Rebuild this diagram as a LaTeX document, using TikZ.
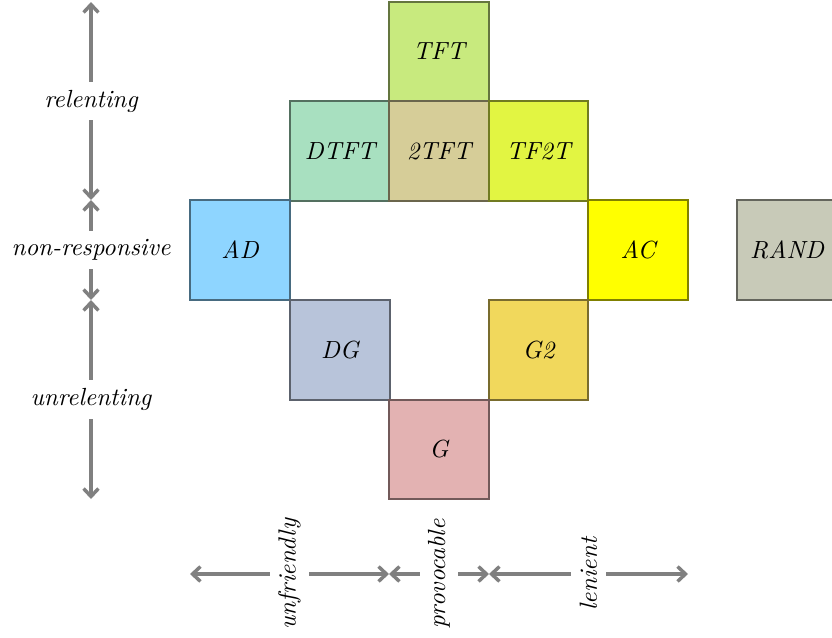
\documentclass[tikz,border=0pt]{standalone}
\usetikzlibrary{arrows.meta}
\definecolor{cTFT}{HTML}{C8EA7E}
\definecolor{cDTFT}{HTML}{A8E0C0}
\definecolor{cTTFT}{HTML}{D6CD98}
\definecolor{cTFTT}{HTML}{E2F542}
\definecolor{cAD}{HTML}{8ED5FF}
\definecolor{cAC}{HTML}{FFFF00}
\definecolor{cRAND}{HTML}{C8CAB8}
\definecolor{cDG}{HTML}{B8C4DA}
\definecolor{cGG}{HTML}{F1D85C}
\definecolor{cG}{HTML}{E3B2B2}
\begin{document}
\begin{tikzpicture}[x=0.4032pt,y=-0.4032pt,
  sq/.style={draw=#1!50!black, fill=#1, line width=0.8pt, minimum size=40.1pt, inner sep=0pt, font=\itshape},
  dim/.style={draw=gray, line width=1.4pt, {Straight Barb[length=3.2pt,width=6pt]}-{Straight Barb[length=3.2pt,width=6pt]}},
  lab/.style={fill=white, font=\itshape}]
\useasboundingbox (0,0) rectangle (832,637);
\node[sq=cTFT] (tft) at (439,51.5) {TFT};
\node[sq=cDTFT] (dtft) at (340,151) {DTFT};
\node[sq=cTTFT] (ttft) at (439,151) {2TFT};
\node[sq=cTFTT] (tftt) at (538.5,151) {TF2T};
\node[sq=cAD] (ad) at (240,250) {AD};
\node[sq=cAC] (ac) at (638,250) {AC};
\node[sq=cRAND] (rand) at (787,250) {RAND};
\node[sq=cDG] (dg) at (340,350) {DG};
\node[sq=cGG] (gg) at (538.5,350) {G2};
\node[sq=cG] (g) at (439,449.5) {G};
\coordinate (v0) at (91,2);
\coordinate (v1) at (91,200);
\coordinate (v2) at (91,300);
\coordinate (v3) at (91,499);
\draw[dim] (v0) -- node[lab] (lrel) {relenting} (v1);
\draw[dim] (v1) -- node[lab] (lnon) {non-responsive} (v2);
\draw[dim] (v2) -- node[lab] (lunr) {unrelenting} (v3);
\coordinate (h0) at (190,574);
\coordinate (h1) at (389,574);
\coordinate (h2) at (489,574);
\coordinate (h3) at (688,574);
\draw[dim] (h0) -- node[lab,rotate=90] (lunf) {unfriendly} (h1);
\draw[dim] (h1) -- node[lab,rotate=90] (lpro) {provocable} (h2);
\draw[dim] (h2) -- node[lab,rotate=90] (llen) {lenient} (h3);
\end{tikzpicture}
\end{document}
